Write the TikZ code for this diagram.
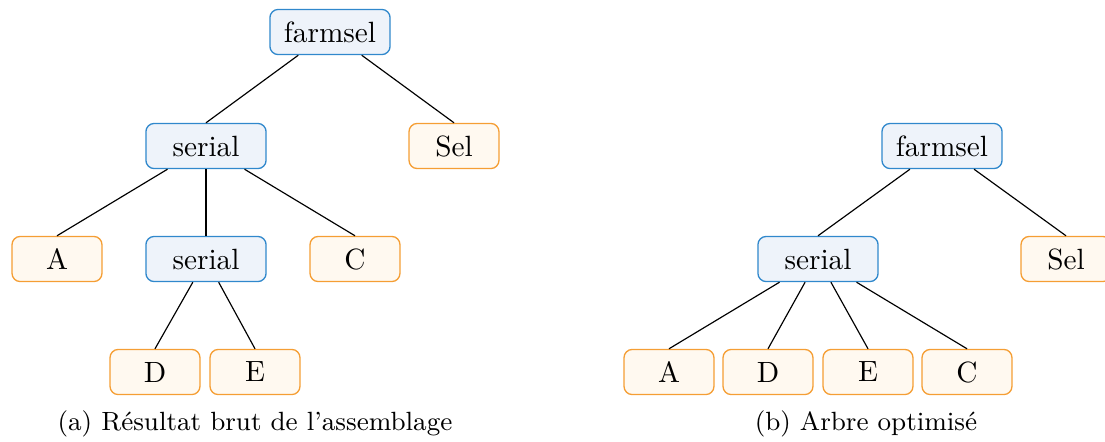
\documentclass[tikz,border=0pt]{standalone}
\definecolor{opblue}{RGB}{48,136,204}
\definecolor{opfill}{RGB}{238,243,250}
\definecolor{leaforange}{RGB}{245,158,52}
\definecolor{leaffill}{RGB}{255,249,240}
\begin{document}
\begin{tikzpicture}[x=0.3413pt,y=-0.3413pt,
  opbox/.style={draw=opblue,fill=opfill,line width=0.45pt,rounded corners=2.8pt,minimum width=41pt,minimum height=15.4pt,inner sep=0pt},
  leafbox/.style={draw=leaforange,fill=leaffill,line width=0.45pt,rounded corners=2.8pt,minimum width=30.7pt,minimum height=15.4pt,inner sep=0pt},
  edge/.style={draw=black,line width=0.4pt},
  caption/.style={font=\small,inner sep=0pt}]
\useasboundingbox (0,0) rectangle (1105,441);
% left tree
\node[opbox] (lf) at (330,32) {farmsel};
\node[opbox] (ls1) at (206,146) {serial};
\node[leafbox] (lsel) at (454,146) {Sel};
\node[leafbox] (la) at (57,259) {A};
\node[opbox] (ls2) at (206,259) {serial};
\node[leafbox] (lc) at (355,259) {C};
\node[leafbox] (ld) at (155,372) {D};
\node[leafbox] (le) at (255,372) {E};
\draw[edge] (lf) -- (ls1.north);
\draw[edge] (lf) -- (lsel.north);
\draw[edge] (ls1) -- (la.north);
\draw[edge] (ls1) -- (ls2.north);
\draw[edge] (ls1) -- (lc.north);
\draw[edge] (ls2) -- (ld.north);
\draw[edge] (ls2) -- (le.north);
\node[caption] (capa) at (255,424) {(a) Résultat brut de l'assemblage};
% right tree
\node[opbox] (rf) at (942,146) {farmsel};
\node[opbox] (rs) at (818,259) {serial};
\node[leafbox] (rsel) at (1066,259) {Sel};
\node[leafbox] (ra) at (669,372) {A};
\node[leafbox] (rd) at (768,372) {D};
\node[leafbox] (re) at (868,372) {E};
\node[leafbox] (rc) at (967,372) {C};
\draw[edge] (rf) -- (rs.north);
\draw[edge] (rf) -- (rsel.north);
\draw[edge] (rs) -- (ra.north);
\draw[edge] (rs) -- (rd.north);
\draw[edge] (rs) -- (re.north);
\draw[edge] (rs) -- (rc.north);
\node[caption] (capb) at (866,424) {(b) Arbre optimisé};
\end{tikzpicture}
\end{document}
